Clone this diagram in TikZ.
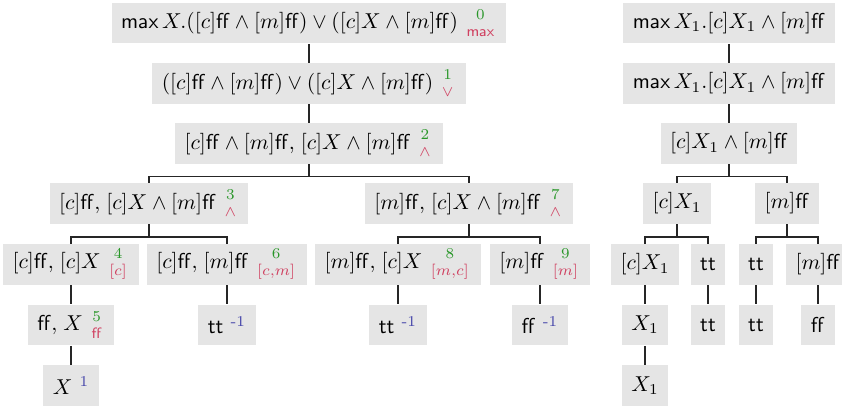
\documentclass[tikz,border=0pt]{standalone}
\usepackage{amsmath,amssymb}
\usepackage{xcolor}
\usepackage{tikz}

\definecolor{stepgreen}{RGB}{40,150,40}
\definecolor{rulered}{RGB}{208,64,96}
\definecolor{leafblue}{RGB}{70,70,170}

% step number over rule name, and the value of a leaf
\newcommand{\ann}[2]{\;{\genfrac{}{}{0pt}{1}{\color{stepgreen}#1}{\color{rulered}#2}}}
\newcommand{\res}[1]{\ {}^{\color{leafblue}\text{#1}}}
\newcommand{\fff}{\mathsf{ff}}
\newcommand{\ttt}{\mathsf{tt}}
\newcommand{\sep}{{,}\;}

\begin{document}
\begin{tikzpicture}[x=0.464pt, y=-0.464pt,
    goal/.style={fill=black!10, minimum height=19pt, inner xsep=4.4pt, inner ysep=0pt},
    link/.style={draw=black!85, line width=0.6pt}]

    \useasboundingbox (0,0) rectangle (842,407);

    % Left tree
    \node[goal] (n0) at (309,23) {$\mathsf{max}\,X.([c]\fff\wedge[m]\fff)\vee([c]X\wedge[m]\fff)\ann{0}{\mathsf{max}}$};
    \node[goal] (n1) at (309,83.5) {$([c]\fff\wedge[m]\fff)\vee([c]X\wedge[m]\fff)\ann{1}{\vee}$};
    \node[goal] (n2) at (309,143.5) {$[c]\fff\wedge[m]\fff\sep[c]X\wedge[m]\fff\ann{2}{\wedge}$};
    \node[goal] (n3) at (149,203.5) {$[c]\fff\sep[c]X\wedge[m]\fff\ann{3}{\wedge}$};
    \node[goal] (n7) at (469,203.5) {$[m]\fff\sep[c]X\wedge[m]\fff\ann{7}{\wedge}$};
    \node[goal] (n4) at (71,264.5) {$[c]\fff\sep[c]X\ann{4}{[c]}$};
    \node[goal] (n6) at (227,264.5) {$[c]\fff\sep[m]\fff\ann{6}{[c,m]}$};
    \node[goal] (n8) at (398,264.5) {$[m]\fff\sep[c]X\ann{8}{[m,c]}$};
    \node[goal] (n9) at (540,264.5) {$[m]\fff\ann{9}{[m]}$};
    \node[goal] (n5) at (71,325) {$\fff\sep X\ann{5}{\fff}$};
    \node[goal] (n6a) at (227,325) {$\ttt\res{-1}$};
    \node[goal] (n8a) at (398,325) {$\ttt\res{-1}$};
    \node[goal] (n9a) at (540,325) {$\fff\res{-1}$};
    \node[goal] (n5a) at (71,385.5) {$X\res{1}$};

    \draw[link] (n0.south) -- (n1.north);
    \draw[link] (n1.south) -- (n2.north);
    \draw[link] (n2.south) -- ++(0,12) -| (n3.north);
    \draw[link] (n2.south) -- ++(0,12) -| (n7.north);
    \draw[link] (n3.south) -- ++(0,12.5) -| (n4.north);
    \draw[link] (n3.south) -- ++(0,12.5) -| (n6.north);
    \draw[link] (n7.south) -- ++(0,12.5) -| (n8.north);
    \draw[link] (n7.south) -- ++(0,12.5) -| (n9.north);
    \draw[link] (n4.south) -- (n5.north);
    \draw[link] (n5.south) -- (n5a.north);
    \draw[link] (n6.south) -- (n6a.north);
    \draw[link] (n8.south) -- (n8a.north);
    \draw[link] (n9.south) -- (n9a.north);

    % Right tree
    \node[goal] (r0) at (729,23) {$\mathsf{max}\,X_1.[c]X_1\wedge[m]\fff$};
    \node[goal] (r1) at (729,83.5) {$\mathsf{max}\,X_1.[c]X_1\wedge[m]\fff$};
    \node[goal] (r2) at (729,143.5) {$[c]X_1\wedge[m]\fff$};
    \node[goal] (r3) at (677,203.5) {$[c]X_1$};
    \node[goal] (r4) at (787,203.5) {$[m]\fff$};
    \node[goal] (r5) at (645,264.5) {$[c]X_1$};
    \node[goal] (r6) at (708,264.5) {$\ttt$};
    \node[goal] (r7) at (756,264.5) {$\ttt$};
    \node[goal] (r8) at (818,264.5) {$[m]\fff$};
    \node[goal] (r9) at (645,325) {$X_1$};
    \node[goal] (r10) at (708,325) {$\ttt$};
    \node[goal] (r11) at (756,325) {$\ttt$};
    \node[goal] (r12) at (818,325) {$\fff$};
    \node[goal] (r13) at (645,385.5) {$X_1$};

    \draw[link] (r0.south) -- (r1.north);
    \draw[link] (r1.south) -- (r2.north);
    \draw[link] (r2.south) -- ++(0,12) -| (r3.north);
    \draw[link] (r2.south) -- ++(0,12) -| (r4.north);
    \draw[link] (r3.south) -- ++(0,12.5) -| (r5.north);
    \draw[link] (r3.south) -- ++(0,12.5) -| (r6.north);
    \draw[link] (r4.south) -- ++(0,12.5) -| (r7.north);
    \draw[link] (r4.south) -- ++(0,12.5) -| (r8.north);
    \draw[link] (r5.south) -- (r9.north);
    \draw[link] (r9.south) -- (r13.north);
    \draw[link] (r6.south) -- (r10.north);
    \draw[link] (r7.south) -- (r11.north);
    \draw[link] (r8.south) -- (r12.north);
\end{tikzpicture}
\end{document}
